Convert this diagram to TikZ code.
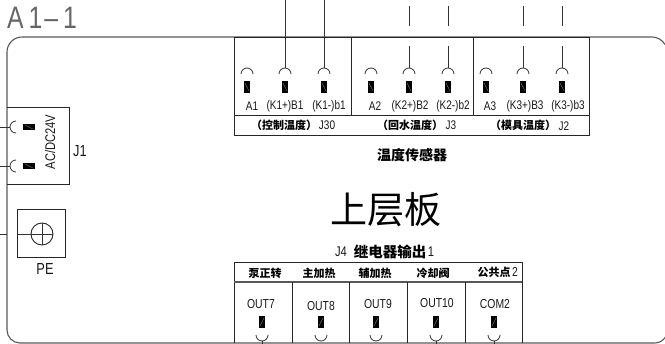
\documentclass[tikz,border=0pt]{standalone}
\usepackage{fontspec}
\setmainfont{Liberation Sans}
\newfontfamily\cad[FakeStretch=0.8]{Liberation Sans}
\newfontfamily\cjk{Noto Sans CJK SC}
\usetikzlibrary{positioning}
\tikzset{
	wire/.style={black!80,line width=0.8pt},
	box/.style={black!85,line width=0.9pt},
	frame/.style={black!65,line width=1.1pt},
	pin/.style={fill=black,draw=none,minimum width=6pt,minimum height=12pt,inner sep=0pt},
	hpin/.style={fill=black,draw=none,minimum width=12pt,minimum height=6pt,inner sep=0pt},
	slit/.style={black!35,line width=0.25pt,shorten >=2pt,shorten <=2pt},
	tag/.style={font=\cad\fontsize{12.5}{12.5}\selectfont,inner sep=0pt,text=black!90},
	big/.style={font=\cad\fontsize{16}{16}\selectfont,inner sep=0pt,text=black!90},
	head/.style={font=\cjk\bfseries\fontsize{11}{11}\selectfont,inner sep=0pt},
}
\begin{document}
\begin{tikzpicture}[x=1pt,y=-1pt]
	\useasboundingbox (0,0) rectangle (665,344);
	% Board outline
	\draw[frame] (7,330) -- (7,52) arc[start angle=180,end angle=270,radius=15] -- (652,37) arc[start angle=270,end angle=330,radius=15];
	\draw[frame] (7,330) arc[start angle=180,end angle=90,radius=13] -- (655,343) arc[start angle=90,end angle=30,radius=12];
	\node[inner sep=0pt,font=\cad\fontsize{31}{31}\selectfont,text=black!60] (title) at (42,18) {A\kern5pt1\kern2pt–\kern5pt1};

	% Sensor block
	\draw[box] (234,37) rectangle (589,135);
	\draw[box] (234,115) -- (589,115);
	\draw[box] (351,37) -- (351,115);
	\draw[box] (473,37) -- (473,115);
	\foreach \name/\cx/\tx/\lbl in {a/247/252/A1,b/285/285/(K1+)B1,c/324/329/(K1-)b1,d/371/375/A2,e/409/410/(K2+)B2,f/448/453/(K2-)b2,g/486/490/A3,h/523/525/(K3+)B3,i/562/568/(K3-)b3}{
		\node[pin] (pin\name) at (\cx,87) {};
		\draw[slit] (pin\name.north west) -- (pin\name.south east);
		\node[tag] (tag\name) at (\tx,106) {\lbl};
		\coordinate (cup\name) at (\cx,68);
		\draw[wire] (\cx-6,74) arc[start angle=180,end angle=360,radius=6];
	}
	% Sensor wires
	\draw[wire] (cupb) -- (285,0);
	\draw[wire] (cupc) -- (324,0);
	\foreach \name/\cx in {e/409,f/448,h/523,i/562}{
		\draw[wire] (cup\name) -- (\cx,46);
		\draw[wire] (\cx,26) -- (\cx,6);
	}
	\node[head] (sa) at (284,125) {（控制温度）};
	\node[tag] (ja) at (327,125) {J30};
	\node[head] (sb) at (410,125) {（回水温度）};
	\node[tag] (jb) at (451,125) {J3};
	\node[head] (sc) at (523,125) {（模具温度）};
	\node[tag] (jc) at (564,126) {J2};
	\node[font=\cjk\bfseries\fontsize{14}{14}\selectfont,inner sep=0pt] (sensor) at (412,155) {温度传感器};

	% Board name
	\node[font=\cjk\fontsize{37}{37}\selectfont,inner sep=0pt] (board) at (386,210) {上层板};

	% Power connector
	\draw[box] (7,107) -- (69,107) -- (69,184) -- (7,184);
	\node[hpin] (pinj) at (29,127) {};
	\node[hpin] (pink) at (29,166) {};
	\draw[slit] (pinj.north west) -- (pinj.south east);
	\draw[slit] (pink.north west) -- (pink.south east);
	\draw[wire] (16,121) arc[start angle=270,end angle=90,radius=6] coordinate[pos=0.5] (cupj);
	\draw[wire] (16,160) arc[start angle=270,end angle=90,radius=6] coordinate[pos=0.5] (cupk);
	\draw[wire] (cupj) -- (0,127);
	\draw[wire] (cupk) -- (0,166);
	\node[tag,font=\cad\fontsize{14}{14}\selectfont,rotate=90] (power) at (50,142) {AC/DC24V};
	\node[big] (jone) at (80,151) {J1};

	% Earth terminal
	\node[draw,box,minimum size=48pt,inner sep=0pt] (earth) at (41,233) {};
	\node[draw,box,circle,minimum size=22pt,inner sep=0pt] (ground) at (42,234) {};
	\draw[wire] (ground.north) -- (ground.south);
	\draw[wire] (17,234) -- (ground.east);
	\draw[wire] (0,234) -- (7,234);
	\node[big] (pe) at (45,269) {PE};

	% Relay block
	\draw[box] (234,343) -- (234,262) -- (522,262) -- (522,343);
	\draw[frame] (234,282) -- (522,282);
	\foreach \xs in {292,349,407,465}{
		\draw[box] (\xs,282) -- (\xs,343);
	}
	\node[tag,font=\cad\fontsize{14}{14}\selectfont] (jfour) at (341,252) {J4};
	\node[font=\cjk\bfseries\fontsize{14.5}{14.5}\selectfont,inner sep=0pt] (relay) at (390,252) {继电器输出};
	\node[tag,font=\cad\fontsize{14}{14}\selectfont] (jtag) at (431,252) {1};
	\foreach \name/\cx/\lbl in {p/265/泵正转,q/319/主加热,r/375/辅加热,s/433/冷却阀}{
		\node[head] (cap\name) at (\cx,273) {\lbl};
	}
	\node[head] (capt) at (494,272) {公共点};
	\node[tag,font=\cad\fontsize{13}{13}\selectfont] (captn) at (515,272) {2};
	\foreach \name/\cx/\tx/\ty/\lbl in {p/262/261/304/OUT7,q/321/321/306/OUT8,r/376/378/304/OUT9,s/436/437/303/OUT10,t/494/495/304/COM2}{
		\node[tag,font=\cad\fontsize{13}{13}\selectfont] (out\name) at (\tx,\ty) {\lbl};
		\node[pin] (opin\name) at (\cx,322) {};
		\draw[slit] (opin\name.south west) -- (opin\name.north east);
		\coordinate (ocup\name) at (\cx,341);
		\draw[wire] (\cx-6,335) arc[start angle=180,end angle=0,radius=6];
	}
	\foreach \name/\cx in {p/262,s/436,t/494}{
		\draw[wire] (ocup\name) -- (\cx,344);
	}
\end{tikzpicture}
\end{document}
